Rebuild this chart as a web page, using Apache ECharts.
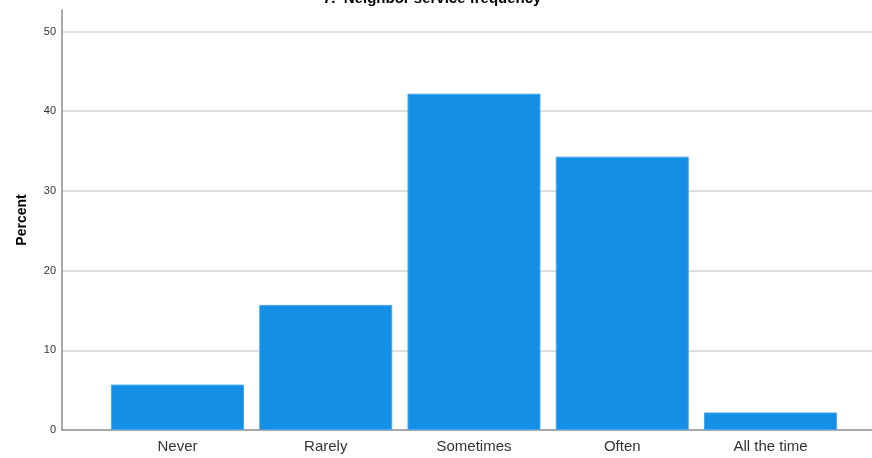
<!DOCTYPE html>
<html>
<head>
<meta charset="utf-8">
<script src="https://cdn.jsdelivr.net/npm/echarts@6/dist/echarts.min.js"></script>
<style>html,body{margin:0;padding:0;background:#fff}#c{width:872px;height:458px}</style>
</head>
<body>
<div id="c"></div>
<script>
const titleText = '7.  Neighbor service frequency';
const categories = ['Never', 'Rarely', 'Sometimes', 'Often', 'All the time'];
const percentValues = [5.7, 15.7, 42.2, 34.3, 2.2];
const yMax = 52.7;
const yInterval = 10;

const chart = echarts.init(document.getElementById('c'), null, {renderer: 'canvas'});
chart.setOption({
  animation: false,
  backgroundColor: '#fff',
  title: {
    text: titleText, left: 318, top: -14,
    textStyle: {fontFamily: 'Liberation Sans', fontSize: 15, fontWeight: 'bold', color: '#000'}
  },
  grid: [
    {left: 62, right: 0, top: 10, bottom: 28},
    {left: 103.4, right: 27.4, top: 10, bottom: 28}
  ],
  xAxis: [
    {gridIndex: 0, type: 'value', min: 0, max: 1,
     axisLine: {show: true, lineStyle: {color: '#8c8c8c', width: 1.5}},
     axisTick: {show: false}, axisLabel: {show: false}, splitLine: {show: false}},
    {gridIndex: 1, type: 'category', data: categories,
     axisLine: {show: false}, axisTick: {show: false},
     axisLabel: {margin: 9, fontFamily: 'Liberation Sans', fontSize: 15, color: '#333'}}
  ],
  yAxis: [
    {gridIndex: 0, type: 'value', min: 0, max: yMax, interval: yInterval,
     name: 'Percent', nameLocation: 'middle', nameGap: 33,
     nameTextStyle: {fontFamily: 'Liberation Sans', fontSize: 14, fontWeight: 'bold', color: '#000'},
     axisLine: {show: true, lineStyle: {color: '#8c8c8c', width: 1.5}},
     axisTick: {show: false},
     axisLabel: {showMaxLabel: false, margin: 6, fontFamily: 'Liberation Sans', fontSize: 11, color: '#333',
       formatter: v => (v % yInterval === 0 ? String(v) : '')},
     splitLine: {show: true, showMinLine: false, showMaxLine: false, lineStyle: {color: '#d4d4d4', width: 1.5}}},
    {gridIndex: 1, type: 'value', min: 0, max: yMax, show: false, splitLine: {show: false}}
  ],
  series: [{
    type: 'bar', xAxisIndex: 1, yAxisIndex: 1,
    data: percentValues,
    barCategoryGap: '10.3%',
    itemStyle: {color: '#1390e6', borderColor: '#4aa6ec', borderWidth: 1}
  }]
});
</script>
</body>
</html>
